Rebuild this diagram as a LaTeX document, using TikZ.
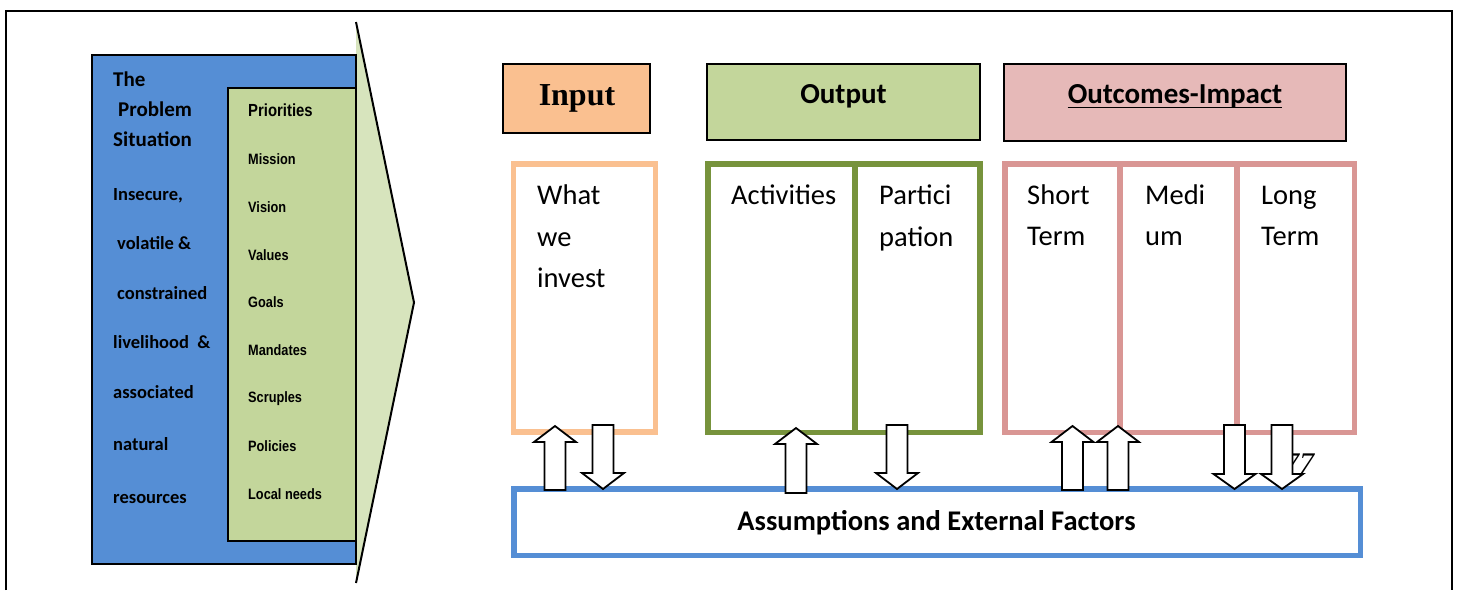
\documentclass[tikz,border=0pt]{standalone}
\usepackage{fontspec}
\newfontfamily\calfont{Carlito}
\newfontfamily\narrowfont[FakeStretch=0.85]{Liberation Sans}
\newfontfamily\serffont{Liberation Serif}

\definecolor{probblue}{HTML}{558ED5}
\definecolor{listgreen}{HTML}{C3D69B}
\definecolor{chevgreen}{HTML}{D7E4BD}
\definecolor{inorange}{HTML}{FAC090}
\definecolor{outgreen}{HTML}{77933C}
\definecolor{outpinkfill}{HTML}{E6B9B8}
\definecolor{outpink}{HTML}{D99694}

% block arrows: x centre, tip y, head base y, tail y
\newcommand\upblock[4]{%
  \draw[blockarrow] (#1-10.5,#4) -- (#1-10.5,#3) -- (#1-21,#3) -- (#1,#2)
    -- (#1+21,#3) -- (#1+10.5,#3) -- (#1+10.5,#4) -- cycle;}
\newcommand\downblock[4]{%
  \draw[blockarrow] (#1-10.5,#4) -- (#1-10.5,#3) -- (#1-21,#3) -- (#1,#2)
    -- (#1+21,#3) -- (#1+10.5,#3) -- (#1+10.5,#4) -- cycle;}

\begin{document}
\begin{tikzpicture}[x=1pt,y=-1pt,
  rectbox/.style={inner sep=0pt, outer sep=0pt, anchor=north west},
  headbox/.style={rectbox, draw=black, line width=2pt},
  stagebox/.style={rectbox, draw, line width=5.5pt, fill=white},
  blockarrow/.style={draw=black, fill=white, line width=1.8pt, line join=miter},
  probtext/.style={anchor=base west, inner sep=0pt, font=\calfont\bfseries\fontsize{18.5}{22}\selectfont},
  probtitle/.style={probtext, font=\calfont\bfseries\fontsize{21}{25}\selectfont},
  listtext/.style={anchor=base west, inner sep=0pt, font=\narrowfont\bfseries\fontsize{15}{18}\selectfont},
  bodytext/.style={anchor=base west, inner sep=0pt, font=\calfont\fontsize{28.5}{34}\selectfont},
  headtext/.style={anchor=base, inner sep=0pt, font=\calfont\bfseries\fontsize{29}{34}\selectfont}]
\useasboundingbox (0,0) rectangle (1458,590);
\fill[white] (0,0) rectangle (1458,590);

% page frame (open at the bottom)
\draw[line width=2.5pt] (6,590) -- (6,11) -- (1452,11) -- (1452,590);

% chevron pointing into the logic model
\filldraw[fill=chevgreen, draw=black, line width=2pt, line join=miter]
  (356,22) -- (414,302.5) -- (356,583);

% problem situation panel
\node[rectbox, draw=black, fill=probblue, line width=2.5pt,
      minimum width=264pt, minimum height=509pt] (prob) at (92,55) {};
\node[rectbox, draw=black, fill=listgreen, line width=2.5pt,
      minimum width=128pt, minimum height=453pt] (list) at (228,88) {};

\node[probtitle] (probtitle1) at (113,86) {The};
\node[probtitle] (probtitle2) at (118,116) {Problem};
\node[probtitle] (probtitle3) at (113,146) {Situation};
\foreach \px/\py/\t [count=\i] in {113/200/{Insecure,}, 117/249/{volatile \&},
    117/299/constrained, 113/348/{livelihood\ \ \&}, 113/398/associated,
    113/450/natural, 113/503/resources}
  \node[probtext] (probline\i) at (\px,\py) {\t};

\node[listtext, font=\narrowfont\bfseries\fontsize{17.5}{20}\selectfont] (item0) at (248,116) {Priorities};
\foreach \py/\t [count=\i] in {164/Mission, 212/Vision, 260/Values, 307/Goals,
    355/Mandates, 402/Scruples, 451/Policies, 499/Local needs}
  \node[listtext] (item\i) at (248,\py) {\t};

% stage headings
\node[headbox, fill=inorange, minimum width=147pt, minimum height=69pt] (inhead) at (503,64) {};
\node[anchor=base, inner sep=0pt, font=\serffont\bfseries\fontsize{32}{38}\selectfont]
  (intitle) at (577,105) {Input};
\node[headbox, fill=listgreen, minimum width=273pt, minimum height=76pt] (outhead) at (707,64) {};
\node[headtext] (outtitle) at (843.5,103) {Output};
\node[headbox, fill=outpinkfill, minimum width=342pt, minimum height=77pt] (ochead) at (1004,64) {};
\node[headtext] (octitle) at (1175,103) {Outcomes-Impact};
\draw[line width=1.6pt] ([yshift=-4.5pt]octitle.base west) -- ([yshift=-4.5pt]octitle.base east);

% stage columns
\node[stagebox, draw=inorange, minimum width=142pt, minimum height=268pt] (invest) at (513.5,164) {};
\node[stagebox, draw=outgreen, minimum width=149pt, minimum height=268.5pt] (activ) at (708,164) {};
\node[stagebox, draw=outgreen, minimum width=125pt, minimum height=268.5pt] (partic) at (855,164) {};
\node[stagebox, draw=outpink, minimum width=116pt, minimum height=268.5pt] (short) at (1005,164) {};
\node[stagebox, draw=outpink, minimum width=118pt, minimum height=268.5pt] (medium) at (1120,164) {};
\node[stagebox, draw=outpink, minimum width=117.5pt, minimum height=268.5pt] (long) at (1237,164) {};

\node[bodytext] (t1) at (537,204) {What};
\node[bodytext] (t2) at (537,246) {we};
\node[bodytext] (t3) at (537,287) {invest};
\node[bodytext] (t4) at (731,204) {Activities};
\node[bodytext] (t5) at (879,204) {Partici};
\node[bodytext] (t6) at (879,246) {pation};
\node[bodytext] (t7) at (1027,204) {Short};
\node[bodytext] (t8) at (1027,245) {Term};
\node[bodytext] (t9) at (1145,204) {Medi};
\node[bodytext] (t10) at (1145,245) {um};
\node[bodytext] (t11) at (1261,204) {Long};
\node[bodytext] (t12) at (1261,245) {Term};

% assumptions bar
\node[stagebox, draw=probblue, minimum width=846.5pt, minimum height=66.5pt] (assump) at (514,489) {};
\node[anchor=base, inner sep=0pt, font=\calfont\bfseries\fontsize{28.5}{34}\selectfont]
  (assumptext) at (936.5,530) {Assumptions and External Factors};

\node[anchor=base west, inner sep=0pt, font=\serffont\itshape\fontsize{30}{36}\selectfont]
  (pagenum) at (1284,473) {77};

% links between the columns and the assumptions bar
\upblock{555}{426}{442}{490}
\downblock{603}{489}{473}{425}
\upblock{796}{428}{444}{493}
\downblock{897}{489}{473}{425}
\upblock{1072.5}{426}{442}{490}
\upblock{1118}{426}{442}{490}
\downblock{1234.5}{489}{474}{425}
\downblock{1282}{489}{474}{425}
\end{tikzpicture}
\end{document}
